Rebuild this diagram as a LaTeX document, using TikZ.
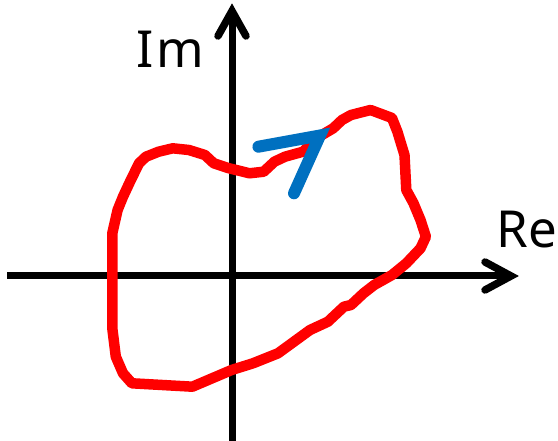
\documentclass[tikz,border=0pt]{standalone}
\usepackage{fontspec}
\setmainfont{Noto Sans}
\begin{document}
\begin{tikzpicture}[x=1pt,y=-1pt,
  axis/.style={line width=7pt,black},
  axhead/.style={line width=7.5pt,black,line cap=round,line join=miter},
  lbl/.style={inner sep=0pt,font=\fontsize{51}{51}\selectfont},
  contour/.style={line width=10.5pt,red,line join=round,line cap=round},
  vec/.style={line width=12pt,draw={rgb,255:red,0;green,112;blue,192},line cap=round,line join=miter}]
\useasboundingbox (0,0) rectangle (558,441);
% axes
\coordinate (xs) at (7,276);
\coordinate (xe) at (511,276);
\coordinate (ys) at (232,441);
\coordinate (ye) at (232,11);
\draw[axis] (xs) -- (xe);
\draw[axis] (ys) -- (ye);
\coordinate (xa1) at (485,262);
\coordinate (xa2) at (485,290);
\coordinate (ya1) at (218,36);
\coordinate (ya2) at (246,36);
\draw[axhead] (xa1) -- (xe) -- (xa2);
\draw[axhead] (ya1) -- (ye) -- (ya2);
\node[lbl] (im) at (170.5,49) {I\kern3pt m};
\node[lbl] (re) at (527,230) {Re};
% red contour
\draw[contour] (370.6,110) -- (392,118) -- (397.4,131.7) -- (404.5,155) -- (406.3,190)
 -- (413.4,203) -- (420.5,220) -- (425.9,236.7) -- (420.5,248.3) -- (406.3,263.3)
 -- (392,275) -- (374.2,285) -- (363.5,293.3) -- (351,305) -- (343.9,306.7)
 -- (327.9,321.7) -- (310,330) -- (278,353.3) -- (253,363.3) -- (231.6,370)
 -- (192.4,386.7) -- (131.9,383.3) -- (123,373.3) -- (115.8,356.7) -- (112.3,328.3)
 -- (112.3,233.3) -- (117.6,210) -- (123,196.7) -- (130,181.7) -- (139,163.3)
 -- (146,156.7) -- (158.6,151.7) -- (172.8,148.3) -- (188.9,150) -- (204.9,155)
 -- (213.8,163.3) -- (228,168) -- (249.5,173.3) -- (263.7,171.7) -- (274.4,161.7)
 -- (285,156.7) -- (303,151.7) -- (319,136.7) -- (333.2,128.3) -- (342,120)
 -- (351,115) -- cycle;
% blue arrow
\coordinate (b1) at (258.4,146.7);
\coordinate (b2) at (320,135.5);
\coordinate (b3) at (294,193.3);
\draw[vec] (b1) -- (b2) -- (b3);
\end{tikzpicture}
\end{document}
